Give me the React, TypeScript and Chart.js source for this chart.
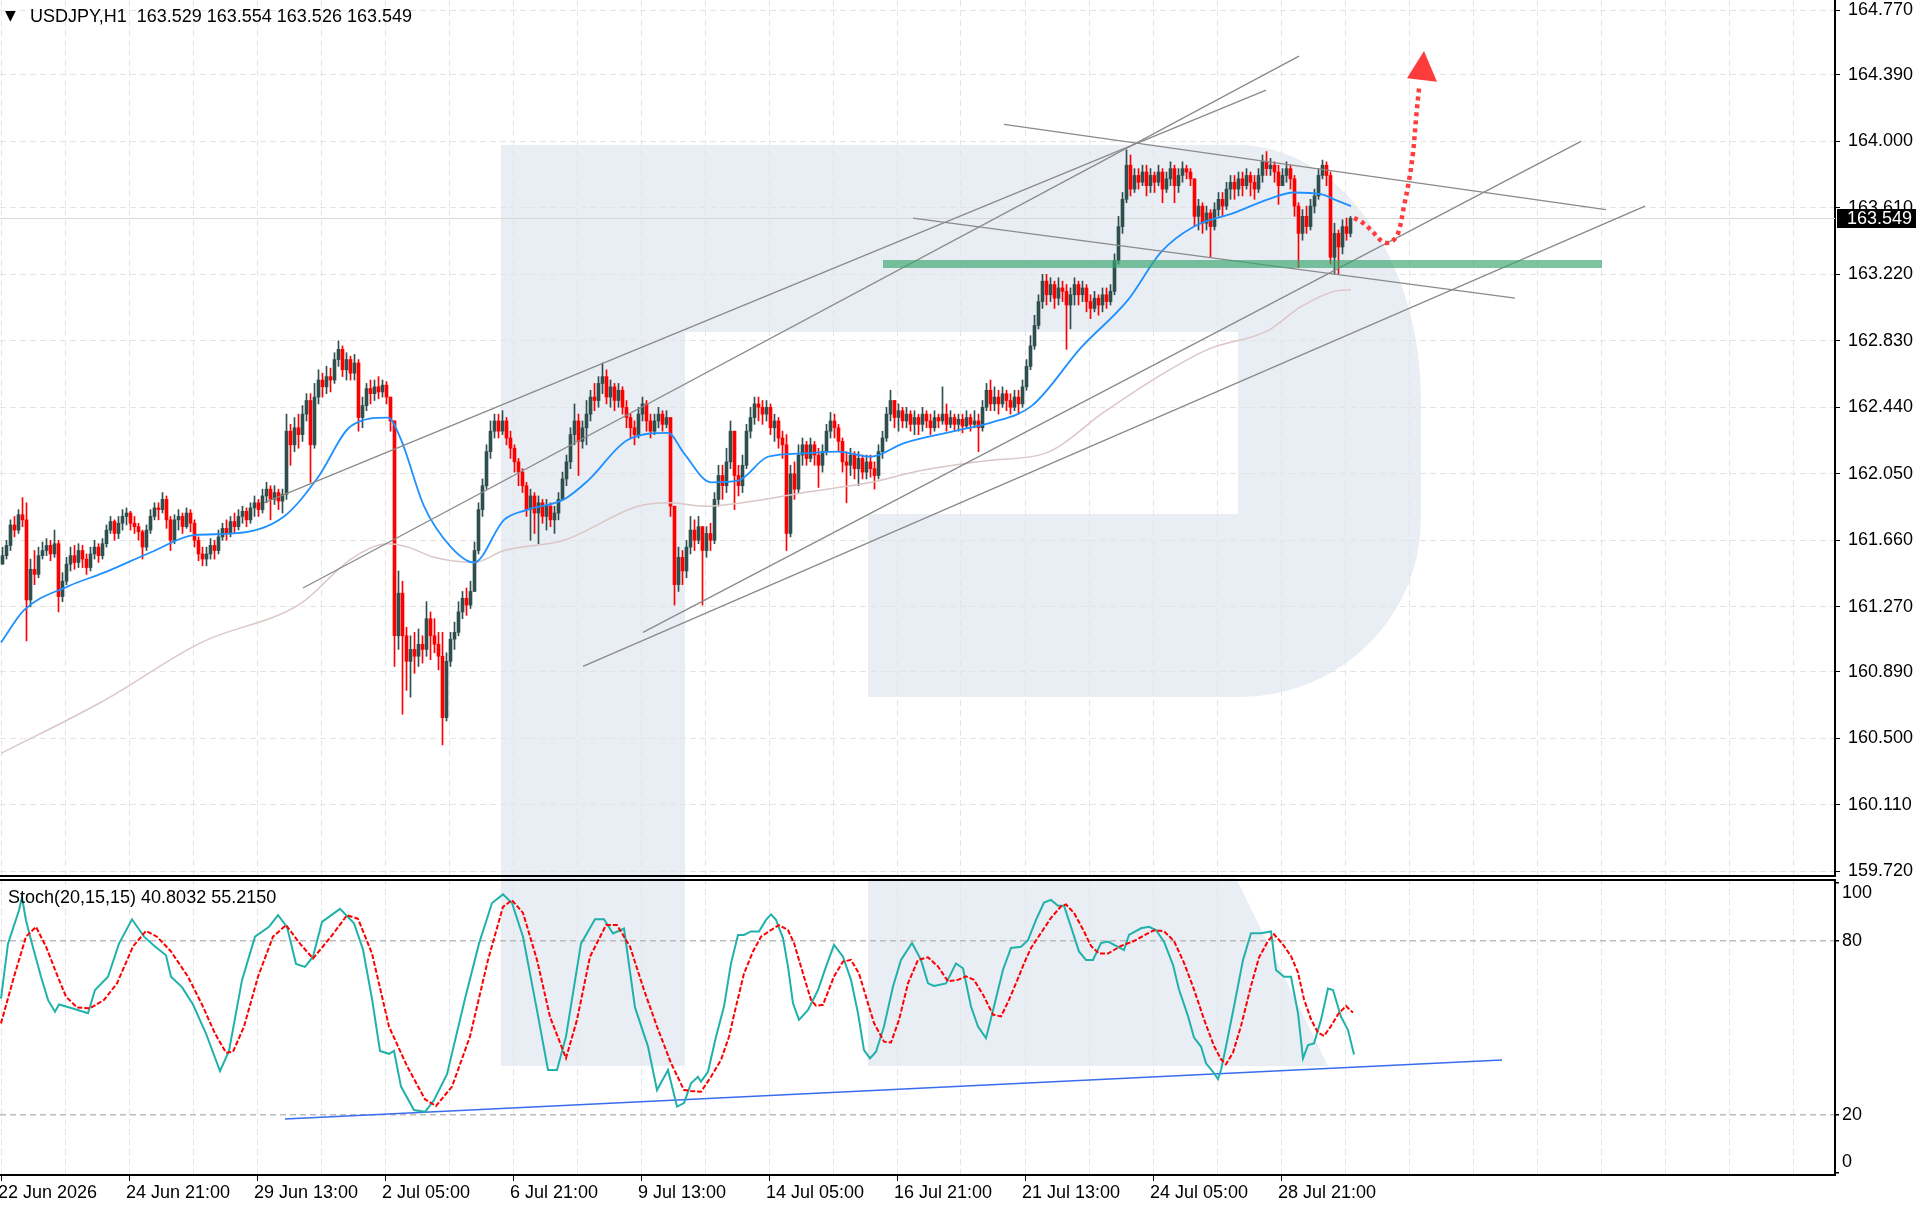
import { useEffect, useRef } from "react"
import { Chart, registerables } from "chart.js"

Chart.register(...registerables)

const FONT = "'Liberation Sans', Arial, sans-serif"
const UP = "#2f4f4f"
const DOWN = "#ff0000"
const GRID = "#e4e4e4"

// 2-hour candles, 22 Jun - 30 Jul (close / high / low); open = previous close
const firstOpen = 161.52
const closes = [
  161.57, 161.63, 161.75, 161.72, 161.81, 161.78, 161.31, 161.49, 161.46, 161.57,
  161.6, 161.63, 161.58, 161.64, 161.33, 161.42, 161.52, 161.57, 161.53, 161.6,
  161.55, 161.5, 161.58, 161.62, 161.57, 161.64, 161.72, 161.77, 161.7, 161.76,
  161.8, 161.82, 161.76, 161.74, 161.71, 161.62, 161.72, 161.8, 161.85, 161.84,
  161.9, 161.78, 161.66, 161.78, 161.8, 161.74, 161.82, 161.76, 161.66, 161.58,
  161.55, 161.58, 161.63, 161.6, 161.68, 161.73, 161.7, 161.77, 161.74, 161.8,
  161.83, 161.78, 161.85, 161.88, 161.84, 161.92, 161.96, 161.9, 161.94, 161.89,
  161.93, 162.3, 162.22, 162.32, 162.28, 162.4, 162.48, 162.22, 162.5, 162.6,
  162.56, 162.62, 162.6, 162.72, 162.78, 162.66, 162.72, 162.64, 162.7, 162.38,
  162.45, 162.55, 162.52, 162.56, 162.53, 162.57, 162.5, 162.36, 161.1, 161.35,
  161.1, 160.95, 161.02, 160.98, 161.05, 161.02, 161.2, 161.1, 161.05, 160.98,
  160.62, 160.95, 161.08, 161.12, 161.24, 161.32, 161.28, 161.36, 161.6, 161.84,
  161.98, 162.18, 162.3, 162.36, 162.3, 162.36, 162.26, 162.2, 162.12, 162.06,
  161.98, 161.84, 161.92, 161.82, 161.88, 161.8, 161.86, 161.78, 161.82, 161.9,
  162.02, 162.12, 162.28, 162.36, 162.24, 162.32, 162.4, 162.5, 162.48, 162.58,
  162.62, 162.5, 162.56, 162.48, 162.54, 162.44, 162.38, 162.32, 162.28, 162.4,
  162.46, 162.36, 162.3, 162.36, 162.4, 162.34, 162.38, 161.86, 161.4, 161.56,
  161.48, 161.62, 161.72, 161.66, 161.74, 161.6, 161.7, 161.66, 161.9, 162.04,
  161.98, 162.12, 162.3, 162.04, 161.98, 162.1, 162.3, 162.38, 162.46, 162.44,
  162.4, 162.44, 162.32, 162.36, 162.26, 162.22, 161.7, 162.05, 161.96, 162.16,
  162.22, 162.14, 162.22, 162.16, 162.1, 162.18, 162.3, 162.36, 162.32, 162.24,
  162.12, 162.1, 162.16, 162.08, 162.14, 162.06, 162.12, 162.08, 162.04, 162.18,
  162.26, 162.4, 162.48, 162.38, 162.42, 162.36, 162.4, 162.34, 162.38, 162.34,
  162.4, 162.36, 162.32, 162.38, 162.36, 162.4, 162.34, 162.38, 162.34, 162.37,
  162.33, 162.38, 162.34, 162.36, 162.32, 162.44, 162.54, 162.46, 162.5, 162.46,
  162.52, 162.48, 162.44, 162.5, 162.46, 162.56, 162.68, 162.8, 162.92, 163.06,
  163.18, 163.1, 163.16, 163.08, 163.14, 163.12, 163.04, 163.1, 163.16, 163.1,
  163.14, 163.06, 163.02, 163.08, 163.04, 163.1, 163.06, 163.12, 163.3, 163.5,
  163.66, 163.86, 163.72, 163.8, 163.76, 163.82, 163.74, 163.8, 163.76, 163.82,
  163.72, 163.78, 163.84, 163.74, 163.8, 163.84, 163.82, 163.78, 163.56, 163.62,
  163.52, 163.58, 163.5, 163.6, 163.66, 163.62, 163.72, 163.76, 163.72, 163.78,
  163.74, 163.8, 163.76, 163.72, 163.8, 163.88, 163.84, 163.86, 163.82, 163.74,
  163.8, 163.84, 163.78, 163.62, 163.46, 163.56, 163.5, 163.62, 163.68, 163.8,
  163.86, 163.8, 163.32, 163.46, 163.38, 163.5, 163.46, 163.549,
]
const highs = [
  161.62, 161.66, 161.78, 161.8, 161.84, 161.91, 161.88, 161.55, 161.6, 161.62,
  161.65, 161.67, 161.66, 161.72, 161.66, 161.47, 161.56, 161.62, 161.63, 161.64,
  161.63, 161.58, 161.62, 161.66, 161.64, 161.67, 161.75, 161.8, 161.78, 161.8,
  161.84, 161.85, 161.83, 161.8, 161.76, 161.72, 161.75, 161.84, 161.88, 161.88,
  161.94, 161.92, 161.8, 161.81, 161.84, 161.82, 161.85, 161.84, 161.78, 161.68,
  161.62, 161.62, 161.67, 161.66, 161.72, 161.76, 161.78, 161.8, 161.82, 161.84,
  161.86, 161.85, 161.88, 161.92, 161.9, 161.96, 162.0, 161.98, 161.98, 161.96,
  161.96, 162.4, 162.34, 162.38, 162.4, 162.45, 162.52, 162.52, 162.58, 162.66,
  162.64, 162.68, 162.67, 162.76, 162.83, 162.8, 162.76, 162.74, 162.75, 162.72,
  162.5, 162.58, 162.6, 162.6, 162.62, 162.6, 162.59, 162.44, 162.34, 161.48,
  161.42, 161.15, 161.1, 161.12, 161.14, 161.1, 161.3, 161.24, 161.2, 161.12,
  161.12, 161.0, 161.12, 161.18, 161.3, 161.36, 161.38, 161.42, 161.65, 161.88,
  162.02, 162.22, 162.36, 162.4, 162.4, 162.42, 162.38, 162.3, 162.22, 162.14,
  162.08, 162.0, 161.96, 161.94, 161.92, 161.9, 161.9, 161.88, 161.86, 161.94,
  162.06, 162.16, 162.32, 162.46, 162.4, 162.36, 162.48, 162.54, 162.58, 162.62,
  162.7, 162.66, 162.6, 162.58, 162.58, 162.56, 162.48, 162.4, 162.36, 162.44,
  162.5, 162.48, 162.4, 162.4, 162.44, 162.42, 162.42, 162.38, 161.84, 161.62,
  161.6, 161.66, 161.8, 161.78, 161.8, 161.7, 161.74, 161.76, 161.94, 162.1,
  162.1, 162.2, 162.36, 162.3, 162.1, 162.16, 162.34, 162.44, 162.5, 162.5,
  162.48, 162.48, 162.46, 162.4, 162.38, 162.3, 162.28, 162.1, 162.12, 162.22,
  162.26, 162.24, 162.26, 162.24, 162.2, 162.22, 162.34, 162.41, 162.4, 162.34,
  162.26, 162.18, 162.2, 162.18, 162.18, 162.16, 162.16, 162.16, 162.12, 162.22,
  162.3, 162.44, 162.54, 162.48, 162.46, 162.44, 162.44, 162.42, 162.42, 162.4,
  162.44, 162.42, 162.4, 162.42, 162.4, 162.56, 162.46, 162.42, 162.4, 162.4,
  162.4, 162.42, 162.4, 162.42, 162.4, 162.48, 162.58, 162.6, 162.56, 162.54,
  162.56, 162.54, 162.52, 162.54, 162.54, 162.6, 162.72, 162.86, 162.98, 163.1,
  163.22, 163.22, 163.2, 163.18, 163.2, 163.18, 163.16, 163.14, 163.2, 163.18,
  163.18, 163.16, 163.1, 163.12, 163.1, 163.14, 163.14, 163.16, 163.34, 163.56,
  163.7, 163.95, 163.92, 163.84, 163.84, 163.86, 163.86, 163.84, 163.82, 163.86,
  163.84, 163.82, 163.88, 163.86, 163.84, 163.88, 163.86, 163.84, 163.72, 163.66,
  163.64, 163.62, 163.6, 163.64, 163.7, 163.7, 163.76, 163.8, 163.8, 163.82,
  163.82, 163.84, 163.82, 163.8, 163.84, 163.92, 163.94, 163.9, 163.88, 163.86,
  163.84, 163.88, 163.86, 163.8, 163.64, 163.6, 163.62, 163.66, 163.72, 163.84,
  163.89, 163.88, 163.82, 163.52, 163.48, 163.54, 163.55, 163.56,
]
const lows = [
  161.52, 161.55, 161.6, 161.68, 161.7, 161.74, 161.07, 161.27, 161.4, 161.44,
  161.55, 161.57, 161.54, 161.56, 161.24, 161.3, 161.4, 161.48, 161.49, 161.5,
  161.5, 161.46, 161.48, 161.55, 161.53, 161.55, 161.62, 161.7, 161.66, 161.67,
  161.72, 161.75, 161.72, 161.7, 161.66, 161.55, 161.6, 161.7, 161.78, 161.78,
  161.82, 161.73, 161.6, 161.64, 161.72, 161.7, 161.73, 161.71, 161.62, 161.54,
  161.51, 161.51, 161.55, 161.55, 161.58, 161.66, 161.66, 161.68, 161.7, 161.72,
  161.76, 161.74, 161.76, 161.8, 161.8, 161.82, 161.88, 161.78, 161.87, 161.84,
  161.82, 161.9, 162.1, 162.18, 162.2, 162.24, 162.36, 162.0, 162.2, 162.46,
  162.5, 162.52, 162.53, 162.58, 162.68, 162.62, 162.6, 162.6, 162.6, 162.3,
  162.32, 162.42, 162.46, 162.48, 162.49, 162.5, 162.46, 162.3, 160.92, 161.02,
  160.64, 160.78, 160.74, 160.88, 160.92, 160.94, 160.98, 160.96, 161.0, 160.9,
  160.46, 160.6, 160.92, 161.02, 161.1, 161.2, 161.22, 161.26, 161.5, 161.58,
  161.8, 161.96, 162.14, 162.26, 162.26, 162.28, 162.22, 162.14, 162.06, 161.98,
  161.94, 161.8, 161.66, 161.7, 161.64, 161.76, 161.72, 161.74, 161.7, 161.78,
  161.9, 161.98, 162.08, 162.22, 162.04, 162.2, 162.22, 162.36, 162.42, 162.44,
  162.52, 162.46, 162.44, 162.42, 162.44, 162.4, 162.32, 162.26, 162.22, 162.26,
  162.36, 162.3, 162.26, 162.28, 162.32, 162.3, 162.32, 161.8, 161.28, 161.36,
  161.4, 161.44, 161.58, 161.6, 161.64, 161.28, 161.56, 161.6, 161.64, 161.86,
  161.9, 161.94, 162.08, 161.84, 161.92, 161.94, 162.08, 162.26, 162.34, 162.36,
  162.34, 162.36, 162.28, 162.24, 162.2, 162.14, 161.6, 161.68, 161.9, 161.94,
  162.1, 162.1, 162.12, 162.1, 161.97, 162.06, 162.16, 162.26, 162.26, 162.18,
  162.06, 161.88, 162.04, 162.02, 161.98, 162.02, 162.02, 162.03, 161.96, 162.02,
  162.14, 162.24, 162.36, 162.32, 162.3, 162.32, 162.32, 162.3, 162.28, 162.28,
  162.3, 162.32, 162.28, 162.3, 162.32, 162.34, 162.3, 162.32, 162.3, 162.3,
  162.29, 162.32, 162.3, 162.32, 162.18, 162.3, 162.42, 162.42, 162.42, 162.4,
  162.44, 162.42, 162.4, 162.42, 162.4, 162.44, 162.54, 162.66, 162.78, 162.9,
  163.02, 163.04, 163.06, 163.02, 163.04, 163.06, 162.78, 162.9, 163.04, 163.04,
  163.06, 163.0, 162.96, 163.0, 162.98, 163.0, 163.02, 163.04, 163.1, 163.28,
  163.46, 163.64, 163.68, 163.7, 163.72, 163.74, 163.68, 163.7, 163.7, 163.74,
  163.64, 163.7, 163.74, 163.64, 163.7, 163.76, 163.78, 163.74, 163.5, 163.48,
  163.46, 163.48, 163.32, 163.48, 163.56, 163.56, 163.6, 163.66, 163.66, 163.68,
  163.68, 163.72, 163.68, 163.66, 163.7, 163.76, 163.8, 163.8, 163.76, 163.63,
  163.74, 163.76, 163.72, 163.56, 163.26, 163.42, 163.46, 163.48, 163.58, 163.66,
  163.78, 163.74, 163.28, 163.22, 163.22, 163.34, 163.42, 163.44,
]

const priceTicks = [159.72, 160.11, 160.5, 160.89, 161.27, 161.66, 162.05, 162.44, 162.83, 163.22, 163.61, 164.0, 164.39, 164.77]
const timeLabels = [
  "22 Jun 2026", "24 Jun 21:00", "29 Jun 13:00", "2 Jul 05:00", "6 Jul 21:00", "9 Jul 13:00",
  "14 Jul 05:00", "16 Jul 21:00", "21 Jul 13:00", "24 Jul 05:00", "28 Jul 21:00",
]

// [hour, price]
const maFast = [
  [0, 161.06], [11.5, 161.25], [33.5, 161.39], [51.5, 161.47], [75, 161.59], [96.5, 161.69],
  [116.5, 161.7], [141.5, 161.8], [158.5, 162.03], [175, 162.33], [193.5, 162.38], [200, 162.25],
  [211.5, 161.86], [225, 161.62], [236.5, 161.53], [251.5, 161.78], [263.5, 161.84], [281.5, 161.9],
  [293.5, 162.01], [313.5, 162.25], [333.5, 162.29], [341.5, 162.17], [355, 162.0], [368.5, 162.01],
  [383.5, 162.15], [401.5, 162.17], [418.5, 162.18], [435, 162.15], [451.5, 162.23], [476.5, 162.3],
  [495, 162.35], [515.5, 162.45], [540, 162.79], [563.5, 163.07], [580, 163.35], [596.5, 163.5],
  [616.5, 163.58], [633.5, 163.66], [646.5, 163.7], [660, 163.69], [666.5, 163.66], [675, 163.62],
]
const maSlow = [
  [0, 160.41], [50, 160.71], [100, 161.06], [150, 161.29], [175, 161.55], [193.5, 161.64],
  [203.5, 161.62], [216.5, 161.56], [236.5, 161.53], [251.5, 161.6], [281.5, 161.66], [318.5, 161.86],
  [335, 161.88], [351.5, 161.86], [376.5, 161.89], [401.5, 161.94], [435, 162.0], [460, 162.07],
  [495, 162.13], [522, 162.17], [552.5, 162.42], [580, 162.63], [603.5, 162.78], [633.5, 162.89],
  [650, 163.03], [666.5, 163.12], [675, 163.13],
]
const trendLines = [
  [[131.5, 161.88], [632.5, 164.3]],
  [[151, 161.38], [649, 164.5]],
  [[501.5, 164.1], [802.5, 163.6]],
  [[456, 163.55], [757, 163.08]],
  [[321, 161.12], [790, 164.0]],
  [[291, 160.92], [822, 163.62]],
]
const supportZone = [[441, 163.28], [800.5, 163.28]]
const forecastPath = [
  [676.5, 163.55], [680, 163.53], [685, 163.48], [691, 163.41], [695, 163.41], [698.5, 163.46],
  [701.5, 163.62], [704, 163.77], [706, 163.93], [707.5, 164.13], [709, 164.31],
]
const forecastHead = [[703, 164.37], [711.5, 164.53], [718, 164.35]]
const lastClose = 163.549

// Stochastic(20,15,15): [hour, value]
const stochK = [
  [0, 60], [3.5, 79], [9, 90.5], [10.5, 95], [12.5, 87], [15.5, 79], [20, 67.6], [23.5, 59.6], [27, 55.5],
  [29, 58], [35.5, 56.7], [43.5, 55], [47, 63], [53.5, 67.6], [59, 79], [65.5, 87.4], [71.5, 81.4], [77, 78],
  [82.5, 75], [85, 67.6], [90.5, 64], [96, 58], [102.5, 48], [109.5, 35], [114, 42], [120.5, 66.4], [127, 81.4],
  [134, 84.8], [138.5, 88.8], [143, 84.8], [147.5, 72], [152, 71], [156, 74.5], [160.5, 86.5], [169.5, 91],
  [176.5, 86], [181, 77], [185.5, 60], [189.5, 42], [194, 41], [196.5, 42], [200, 29.7], [206.5, 21.6], [212, 21],
  [216.5, 25], [223, 34], [232, 60], [239, 79], [245.5, 93], [251, 96], [255.5, 93], [261, 81.4], [268, 56],
  [273.5, 35.4], [278, 35.4], [282.5, 47], [290, 79], [297, 87.4], [301.5, 87.4], [306, 82.5], [311.5, 84.2],
  [317, 57], [323.5, 43.5], [328, 28.5], [333.5, 35.4], [338, 22.8], [341.5, 24], [345, 30.8], [348.5, 33.1],
  [350, 31.4], [353.5, 34.8], [357.5, 46.9], [361.5, 57.3], [365, 72.2], [368.5, 82], [371.5, 82], [375, 83.2],
  [379, 83.2], [382.5, 87.2], [385, 89.1], [387.5, 87.2], [391, 80.9], [393.5, 71.1], [396, 58.4], [399, 52.7],
  [403.5, 56.1], [408.5, 63], [412.5, 71.1], [416.5, 78.6], [421, 74.5], [425, 66.5], [428.5, 55], [431.5, 42.3],
  [434.5, 39.4], [437.5, 41.7], [441.5, 50.4], [446, 64.2], [450, 73.4], [455.5, 79.2], [460, 73.4], [463.5, 65.3],
  [466.5, 64.4], [472.5, 65.3], [477.5, 72.2], [481, 70.5], [485, 57.3], [488.5, 50.4], [492.5, 46.4], [496.5, 57.3],
  [501, 70], [505, 77.5], [510, 77.9], [513.5, 80.2], [517.5, 87.2], [521.5, 93.2], [525, 94.1], [528.5, 92.1],
  [531.5, 92.1], [535, 84.8], [539, 76.3], [542.5, 73.4], [546, 73.4], [550, 79.2], [553.5, 79.7], [558.5, 77.9],
  [561.5, 76.8], [564, 82], [570, 84.3], [574, 84.8], [577.5, 83.7], [581.5, 79.7], [586, 71.7], [589, 63.2],
  [593.5, 54], [596.5, 46.6], [600, 43.5], [602.5, 37.7], [606, 34.8], [608.5, 32.3], [610, 35.4], [612.5, 43.5],
  [616.5, 57.3], [621, 73.4], [625, 82.6], [630, 82.6], [635, 83.2], [637.5, 69.9], [641.5, 67.6], [645, 67.6],
  [648.5, 55], [651, 39.4], [653.5, 44], [656.5, 44.6], [660, 52.7], [663.5, 63.5], [666, 63], [670, 53.8],
  [673.5, 49.2], [676.5, 40.8],
]
const stochD = [
  [0, 51.5], [6.5, 67.6], [12.5, 81.4], [17.5, 84.8], [22.5, 78], [27, 70], [32.5, 60.7], [38, 57], [44.5, 56.7],
  [51.5, 59.6], [58, 65.3], [66, 78], [72.5, 83.4], [78, 81.4], [85, 76.3], [93.5, 67.6], [100.5, 58], [107, 48],
  [112.5, 41.4], [116, 41.7], [121.5, 50.4], [128.5, 67.6], [136, 81.4], [142.5, 85.4], [149.5, 79], [156, 73.9],
  [165, 81.4], [173, 88.8], [178.5, 87.6], [185.5, 75.6], [194, 50.4], [203, 36.8], [212, 25.3], [217.5, 23],
  [225.5, 29.7], [234.5, 47], [243.5, 73.4], [251, 91.7], [255.5, 94], [261, 89.6], [268, 73.4], [274.5, 53.8],
  [282.5, 39.5], [288, 52.7], [294.5, 74.5], [302.5, 85.4], [308, 85.4], [314.5, 78], [321.5, 63], [328, 50.4],
  [335, 37.8], [341.5, 28.5], [345, 28.2], [350, 27.9], [355, 33.1], [360, 38.9], [364, 46.9], [367.5, 57.3],
  [371.5, 68.7], [376, 76.3], [380, 81.4], [385, 83.7], [389, 85.4], [393.5, 83.7], [396.5, 79.2], [401, 68.7],
  [405, 59.6], [407.5, 57.6], [411, 57.9], [416.5, 67.7], [421, 72.8], [425, 73.4], [429, 68.7], [433.5, 58.4],
  [436.5, 51.6], [441.5, 45.2], [445, 44.9], [449, 52.7], [453.5, 65.3], [458.5, 73.4], [463.5, 74.3], [468.5, 71.1],
  [473.5, 66], [478.5, 66.5], [482.5, 67.7], [486.5, 66.5], [491, 61.4], [496, 54.5], [500, 53.9], [504, 59.6],
  [508.5, 67], [511.5, 72.2], [515, 77.5], [520, 82.7], [525, 87.9], [530, 91.9], [532.5, 92.5], [536.5, 89.6],
  [541, 83.9], [545, 78.2], [549, 75.6], [553.5, 75.6], [560, 78.2], [566.5, 79.9], [572.5, 82.2], [576.5, 83.6],
  [581.5, 83.3], [586.5, 79.9], [591.5, 72.4], [596.5, 63.2], [601.5, 52.9], [606.5, 43.7], [610, 39.1], [612.5, 37.4],
  [616, 41.4], [620, 50.6], [625, 64.4], [629, 74.2], [633.5, 79.9], [636.5, 82.2], [641, 78.7], [645, 74.7],
  [648.5, 69], [651.5, 59.8], [655, 52.9], [658.5, 48.3], [661.5, 47.2], [665, 50.6], [668.5, 54.6], [672.5, 57.5],
  [676, 55.2],
]
const stochTrend = [[142, 18.5], [750.5, 38.9]]
const stochLevels = [[100, 10], [80, 0], [20, 0], [0, -11]]

const gridHours = Array.from({ length: 29 }, (_, i) => i * 32)
const pts = (a: number[][]) => a.map(([x, y]) => ({ x, y }))

// faint logo behind both panels
function drawWatermark(c: HTMLCanvasElement) {
  const ctx = c.getContext("2d")
  if (!ctx) return
  ctx.fillStyle = "#e9edf4"
  ctx.fillRect(501, 145, 184, 921)
  ctx.beginPath()
  ctx.moveTo(685, 145)
  ctx.lineTo(1238, 145)
  ctx.ellipse(1238, 400, 183, 255, 0, -Math.PI / 2, 0)
  ctx.lineTo(1421, 518)
  ctx.ellipse(1240, 518, 181, 179, 0, 0, Math.PI / 2)
  ctx.lineTo(868, 697)
  ctx.lineTo(868, 514)
  ctx.lineTo(1238, 514)
  ctx.lineTo(1238, 332)
  ctx.lineTo(685, 332)
  ctx.closePath()
  ctx.fill()
  ctx.beginPath()
  ctx.moveTo(868, 878)
  ctx.lineTo(1236, 878)
  ctx.lineTo(1328, 1066)
  ctx.lineTo(868, 1066)
  ctx.closePath()
  ctx.fill()
}

const priceMarker = {
  id: "priceMarker",
  beforeDatasetsDraw(chart: any) {
    const { ctx, chartArea, scales } = chart
    const y = Math.round(scales.y.getPixelForValue(lastClose)) + 0.5
    ctx.save()
    ctx.strokeStyle = "#d8d8d8"
    ctx.lineWidth = 1
    ctx.beginPath()
    ctx.moveTo(chartArea.left, y)
    ctx.lineTo(chartArea.right, y)
    ctx.stroke()
    ctx.restore()
  },
  afterDraw(chart: any) {
    const { ctx, chartArea, scales } = chart
    const y = scales.y.getPixelForValue(lastClose)
    ctx.save()
    ctx.fillStyle = "#000"
    ctx.fillRect(chartArea.right + 2, Math.round(y - 9.5), 79, 19)
    ctx.fillStyle = "#fff"
    ctx.font = `18px ${FONT}`
    ctx.textBaseline = "middle"
    ctx.fillText(lastClose.toFixed(3), chartArea.right + 12, y + 1)
    ctx.restore()
  },
}

const stochDecor = {
  id: "stochDecor",
  afterDraw(chart: any) {
    const { ctx, chartArea, scales } = chart
    ctx.save()
    ctx.strokeStyle = "#000"
    ctx.lineWidth = 2
    ctx.beginPath()
    ctx.moveTo(chartArea.left, chartArea.top + 1)
    ctx.lineTo(chartArea.right, chartArea.top + 1)
    ctx.stroke()
    ctx.font = `18px ${FONT}`
    ctx.fillStyle = "#000"
    ctx.textBaseline = "middle"
    stochLevels.forEach(([v, shift]) => {
      ctx.fillText(String(v), chartArea.right + 7, scales.y.getPixelForValue(v) + shift)
    })
    ctx.restore()
  },
}

export default function App() {
  const bgRef = useRef<HTMLCanvasElement>(null)
  const mainRef = useRef<HTMLCanvasElement>(null)
  const stochRef = useRef<HTMLCanvasElement>(null)

  useEffect(() => {
    if (!bgRef.current || !mainRef.current || !stochRef.current) return
    document.body.style.margin = "0"
    drawWatermark(bgRef.current)

    const candles = closes.map((c, i) => {
      const o = i === 0 ? firstOpen : closes[i - 1]
      return { t: 2 * i + 0.75, o, c, h: Math.max(highs[i], o, c), l: Math.min(lows[i], o, c) }
    })
    const colors = candles.map((k) => (k.c >= k.o ? UP : DOWN))
    const line = { type: "line" as const, pointRadius: 0, fill: false }

    const main = new Chart(mainRef.current, {
      type: "bar",
      data: {
        datasets: [
          { type: "bar", data: candles.map((k) => ({ x: k.t, y: [k.l, k.h] })), backgroundColor: colors, barThickness: 1, grouped: false, order: 11 } as any,
          { type: "bar", data: candles.map((k) => ({ x: k.t, y: [k.o, k.c] })), backgroundColor: colors, barThickness: 3, grouped: false, minBarLength: 1, order: 10 } as any,
          { ...line, data: pts(maSlow), borderColor: "#dcc6c6", borderWidth: 1.5, cubicInterpolationMode: "monotone", order: 9 },
          { ...line, data: pts(maFast), borderColor: "#1e90ff", borderWidth: 1.8, cubicInterpolationMode: "monotone", order: 8 },
          ...trendLines.map((l) => ({ ...line, data: pts(l), borderColor: "#8a8a8a", borderWidth: 1.3, order: 5 })),
          { ...line, data: pts(supportZone), borderColor: "rgba(55,164,109,0.65)", borderWidth: 8, borderCapStyle: "butt", order: 4 },
          { ...line, data: pts(forecastPath), borderColor: "#ff3c3c", borderWidth: 4.5, borderDash: [4, 4], tension: 0.35, order: 3 },
          { ...line, data: pts(forecastHead), borderWidth: 0, backgroundColor: "#ff3c3c", fill: "shape", order: 2 },
        ] as any,
      },
      options: {
        responsive: false,
        animation: false,
        devicePixelRatio: 1,
        layout: { padding: 0, autoPadding: false },
        plugins: { legend: { display: false }, tooltip: { enabled: false } },
        scales: {
          x: {
            type: "linear",
            min: -0.5,
            max: 917,
            offset: false,
            afterBuildTicks: (s: any) => { s.ticks = gridHours.map((v) => ({ value: v })) },
            afterFit: (s: any) => { s.height = 1; s.paddingLeft = 0; s.paddingRight = 0 },
            ticks: { display: false },
            grid: { offset: false, color: GRID, drawTicks: false },
            border: { color: "#000", width: 2, dash: [6, 4] },
          },
          y: {
            position: "right",
            min: 159.691,
            max: 164.829,
            afterBuildTicks: (s: any) => { s.ticks = priceTicks.map((v) => ({ value: v })) },
            afterFit: (s: any) => { s.width = 87; s.paddingTop = 0; s.paddingBottom = 0 },
            ticks: { callback: (v: any) => Number(v).toFixed(3), color: "#000", padding: 8, autoSkip: false, font: { family: FONT, size: 18 } },
            grid: { color: GRID, tickColor: "#000", tickLength: 5 },
            border: { color: "#000", width: 2, dash: [6, 4] },
          },
        },
      } as any,
      plugins: [priceMarker],
    })

    const stoch = new Chart(stochRef.current, {
      type: "line",
      data: {
        datasets: [
          { ...line, data: pts(stochTrend), borderColor: "#3a6cf0", borderWidth: 1.5, order: 3 },
          { ...line, data: pts(stochK), borderColor: "#20b2aa", borderWidth: 2, order: 2 },
          { ...line, data: pts(stochD), borderColor: "#ff0000", borderWidth: 2, borderDash: [5, 2], order: 1 },
        ] as any,
      },
      options: {
        responsive: false,
        animation: false,
        devicePixelRatio: 1,
        layout: { padding: 0, autoPadding: false },
        plugins: { legend: { display: false }, tooltip: { enabled: false } },
        scales: {
          x: {
            type: "linear",
            min: -0.5,
            max: 917,
            offset: false,
            afterBuildTicks: (s: any) => { s.ticks = gridHours.map((v) => ({ value: v })) },
            afterFit: (s: any) => { s.height = 37; s.paddingLeft = 0; s.paddingRight = 0 },
            ticks: {
              autoSkip: false,
              maxRotation: 0,
              align: "start",
              labelOffset: -3,
              padding: 1,
              color: "#000",
              font: { family: FONT, size: 18 },
              callback: (v: any) => {
                const k = Number(v) / 64
                return Number.isInteger(k) && k < timeLabels.length ? timeLabels[k] : ""
              },
            },
            grid: {
              offset: false,
              color: GRID,
              tickLength: 6,
              tickColor: (c: any) => {
                const k = c.tick ? c.tick.value / 64 : -1
                return Number.isInteger(k) && k < timeLabels.length ? "#000" : "rgba(0,0,0,0)"
              },
            },
            border: { color: "#000", width: 2, dash: [6, 4] },
          },
          y: {
            position: "right",
            min: -0.8,
            max: 101.3,
            afterBuildTicks: (s: any) => { s.ticks = [0, 20, 80, 100].map((v) => ({ value: v })) },
            afterFit: (s: any) => { s.width = 87; s.paddingTop = 0; s.paddingBottom = 0 },
            ticks: { display: false },
            grid: {
              color: (c: any) => (c.tick && (c.tick.value === 20 || c.tick.value === 80) ? "#bcbcbc" : "rgba(0,0,0,0)"),
              lineWidth: 1.5,
              tickColor: "#000",
              tickLength: 4,
            },
            border: { color: "#000", width: 2, dash: [6, 4] },
          },
        },
      } as any,
      plugins: [stochDecor],
    })

    return () => {
      main.destroy()
      stoch.destroy()
    }
  }, [])

  const text = { position: "absolute" as const, fontFamily: FONT, fontSize: 18, lineHeight: "18px", color: "#000", whiteSpace: "pre" as const }

  return (
    <div style={{ position: "relative", width: 1922, height: 1212, background: "#fff", overflow: "hidden" }}>
      <canvas ref={bgRef} width={1922} height={1212} style={{ position: "absolute", left: 0, top: 0 }} />
      <canvas ref={mainRef} width={1922} height={877} style={{ position: "absolute", left: 0, top: 0, width: 1922, height: 877 }} />
      <canvas ref={stochRef} width={1922} height={333} style={{ position: "absolute", left: 0, top: 879, width: 1922, height: 333 }} />
      <div style={{ ...text, left: 5, top: 6, fontFamily: "'DejaVu Sans', sans-serif", fontSize: 14 }}>▼</div>
      <div style={{ ...text, left: 30, top: 7 }}>USDJPY,H1  163.529 163.554 163.526 163.549</div>
      <div style={{ ...text, left: 8, top: 888 }}>Stoch(20,15,15) 40.8032 55.2150</div>
    </div>
  )
}
